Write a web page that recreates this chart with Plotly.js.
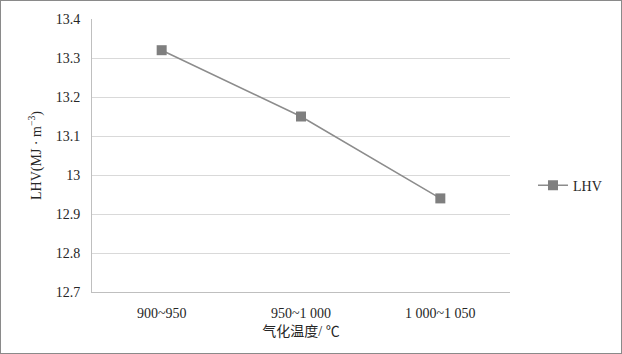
<!DOCTYPE html>
<html><head><meta charset="utf-8">
<script src="https://cdn.plot.ly/plotly-3.0.1.min.js"></script>
<style>html,body{margin:0;padding:0;background:#fff;}#wrap{width:620px;height:352px;border:1px solid #8a8a8a;}</style>
</head><body><div id="wrap"><div id="chart" style="width:620px;height:352px;"></div></div>
<script>
const categories = ['900~950', '950~1 000', '1 000~1 050'];
const lhvValues = [13.32, 13.15, 12.94];
const seriesName = 'LHV';
const yTicks = [12.7, 12.8, 12.9, 13, 13.1, 13.2, 13.3, 13.4];
const yTickText = ['12.7', '12.8', '12.9', '13', '13.1', '13.2', '13.3', '13.4'];

const font = {family: "'Liberation Serif', 'Times New Roman', 'Noto Sans CJK SC', serif", size: 14, color: '#262626'};
Plotly.newPlot('chart', [{
  x: categories, y: lhvValues, name: seriesName, type: 'scatter', mode: 'lines+markers',
  line: {color: '#8c8c8c', width: 1.5},
  marker: {symbol: 'square', size: 10, color: '#7f7f7f'}
}], {
  width: 620, height: 352,
  margin: {l: 91, r: 111, t: 18, b: 61},
  paper_bgcolor: '#fff', plot_bgcolor: '#fff',
  font: font,
  showlegend: true,
  legend: {x: 1.055, xanchor: 'left', y: 0.39, yanchor: 'middle', font: font, bgcolor: 'rgba(0,0,0,0)', itemwidth: 30},
  xaxis: {
    type: 'category', range: [-0.5, 2.5], showgrid: false, showline: true, linecolor: '#bfbfbf', linewidth: 1,
    ticks: '', ticklabelstandoff: 8, tickfont: font,
    title: {text: '气化温度/ ℃', font: font, standoff: 6}
  },
  yaxis: {
    range: [12.7, 13.4], tickvals: yTicks, ticktext: yTickText,
    showgrid: true, gridcolor: '#d9d9d9', gridwidth: 1,
    showline: true, linecolor: '#bfbfbf', linewidth: 1, zeroline: false,
    ticks: '', ticklabelstandoff: 8, tickfont: font,
    title: {text: 'LHV(MJ · m<sup>−3</sup>)', font: font, standoff: 10}
  }
}, {displayModeBar: false, staticPlot: true});
</script></body></html>
